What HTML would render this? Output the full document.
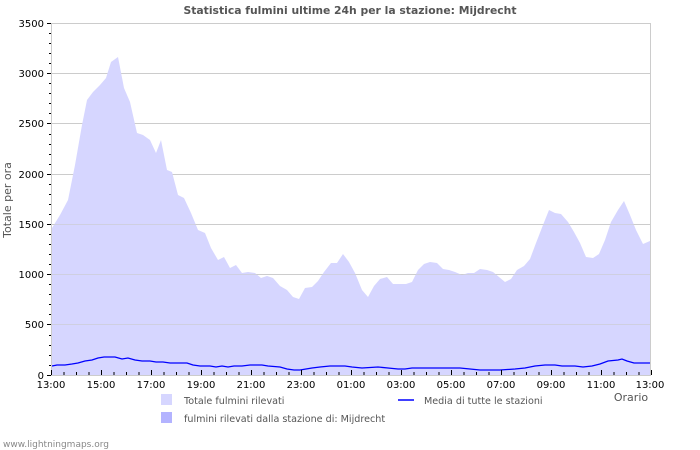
<!DOCTYPE html>
<html><head><meta charset="utf-8"><style>
html,body{margin:0;padding:0;background:#fff;}
svg{display:block;font-family:"DejaVu Sans","Liberation Sans",sans-serif;}
</style></head><body>
<svg width="700" height="450" viewBox="0 0 700 450" xmlns="http://www.w3.org/2000/svg">
<rect width="700" height="450" fill="#fff"/>
<text x="350" y="14" font-size="10.8" font-weight="bold" fill="#555" text-anchor="middle">Statistica fulmini ultime 24h per la stazione: Mijdrecht</text>
<rect x="51.5" y="23.5" width="599" height="351.5" fill="none" stroke="#ccc"/>
<g stroke="#ccc" stroke-width="1">
<line x1="51" y1="73.5" x2="651" y2="73.5"/><line x1="51" y1="123.5" x2="651" y2="123.5"/>
<line x1="51" y1="174.5" x2="651" y2="174.5"/><line x1="51" y1="224.5" x2="651" y2="224.5"/>
<line x1="51" y1="274.5" x2="651" y2="274.5"/><line x1="51" y1="324.5" x2="651" y2="324.5"/>
</g>
<polygon fill="#d6d6ff" points="52,375 52,228 60,215 68,200 75,165 82,125 87,100 93,92 100,85 106,78 111,62 118,57 124,88 130,102 137,133 143,135 150,140 156,153 161,140 167,170 172,172 178,195 184,198 191,213 198,230 205,233 211,248 218,260 224,257 230,268 236,265 242,273 248,272 255,273 261,278 267,276 273,278 280,286 287,290 293,297 299,299 305,288 312,287 318,281 324,272 331,263 337,263 343,254 349,262 355,273 362,290 368,297 374,286 380,279 387,277 393,284 399,284 406,284 412,282 418,270 424,264 430,262 437,263 443,269 449,270 455,272 462,275 468,273 474,273 480,269 487,270 493,272 499,277 505,282 511,279 517,270 524,266 530,259 536,243 543,225 549,210 555,213 561,214 568,222 574,232 580,243 586,257 593,258 599,254 605,240 611,222 618,210 624,201 630,215 636,230 643,244 650,241 650,375"/>
<g stroke="#ccc" stroke-width="1" opacity="0.6">
<line x1="52" y1="324.5" x2="650" y2="324.5"/><line x1="52" y1="274.5" x2="650" y2="274.5"/><line x1="52" y1="224.5" x2="650" y2="224.5"/>
</g>
<polyline fill="none" stroke="#0000ff" stroke-width="1.3" points="52,366 57,365 65,365 72,364 78,363 85,361 92,360 98,358 104,357 115,357 122,359 128,358 135,360 142,361 150,361 156,362 163,362 170,363 187,363 193,365 200,366 210,366 216,367 222,366 228,367 234,366 242,366 250,365 262,365 268,366 280,367 287,369 294,370 300,370 306,369 312,368 320,367 330,366 345,366 352,367 362,368 378,367 388,368 398,369 405,369 412,368 420,368 460,368 470,369 480,370 490,370 500,370 515,369 525,368 535,366 545,365 555,365 562,366 575,366 583,367 592,366 600,364 608,361 618,360 622,359 627,361 634,363 650,363"/>
<line x1="51.5" y1="23" x2="51.5" y2="376" stroke="#ccc"/>
<line x1="51" y1="375.5" x2="651" y2="375.5" stroke="#ccc"/>
<g stroke="#000" stroke-width="1">
<path d="M47,375.5h4M47,324.5h4M47,274.5h4M47,224.5h4M47,174.5h4M47,123.5h4M47,73.5h4M47,23.5h4"/>
<path d="M49,365.5h2M49,355.5h2M49,345.5h2M49,335.5h2M49,314.5h2M49,304.5h2M49,294.5h2M49,284.5h2M49,264.5h2M49,254.5h2M49,244.5h2M49,234.5h2M49,214.5h2M49,204.5h2M49,194.5h2M49,184.5h2M49,164.5h2M49,154.5h2M49,144.5h2M49,134.5h2M49,113.5h2M49,103.5h2M49,93.5h2M49,83.5h2M49,63.5h2M49,53.5h2M49,43.5h2M49,33.5h2"/>
</g>
<g stroke="#000" stroke-width="1" id="xt"></g>
<g font-size="10" fill="#000" text-anchor="end">
<text x="44" y="379">0</text><text x="44" y="328">500</text><text x="44" y="278">1000</text><text x="44" y="228">1500</text><text x="44" y="178">2000</text><text x="44" y="127">2500</text><text x="44" y="77">3000</text><text x="44" y="27">3500</text>
</g>
<g font-size="10" fill="#000" text-anchor="middle">
<text x="51" y="388">13:00</text><text x="101" y="388">15:00</text><text x="151" y="388">17:00</text><text x="201" y="388">19:00</text><text x="251" y="388">21:00</text><text x="301" y="388">23:00</text><text x="351" y="388">01:00</text><text x="401" y="388">03:00</text><text x="451" y="388">05:00</text><text x="501" y="388">07:00</text><text x="551" y="388">09:00</text><text x="601" y="388">11:00</text><text x="650" y="388">13:00</text>
</g>
<text x="631" y="401" font-size="11" fill="#555" text-anchor="middle">Orario</text>
<text transform="translate(11,200) rotate(-90)" font-size="11" fill="#555" text-anchor="middle">Totale per ora</text>
<rect x="161" y="394" width="11" height="11" fill="#d6d6ff"/>
<rect x="161" y="412" width="11" height="11" fill="#b3b3ff"/>
<text x="184" y="404" font-size="9.6" fill="#555">Totale fulmini rilevati</text>
<text x="184" y="422" font-size="9.6" fill="#555">fulmini rilevati dalla stazione di: Mijdrecht</text>
<line x1="398" y1="400" x2="414" y2="400" stroke="#0000ff" stroke-width="1.5"/>
<text x="424" y="404" font-size="9.6" fill="#555">Media di tutte le stazioni</text>
<text x="3" y="447" font-size="9" fill="#888">www.lightningmaps.org</text>
<script>
var g=document.getElementById('xt'),d='';
for(var i=0;i<=48;i++){var x=51.5+i*12.5;d+='M'+x+',375v'+(i%4==0?-5:-3);}
var p=document.createElementNS('http://www.w3.org/2000/svg','path');p.setAttribute('d',d);g.appendChild(p);
</script>
</svg>
</body></html>
